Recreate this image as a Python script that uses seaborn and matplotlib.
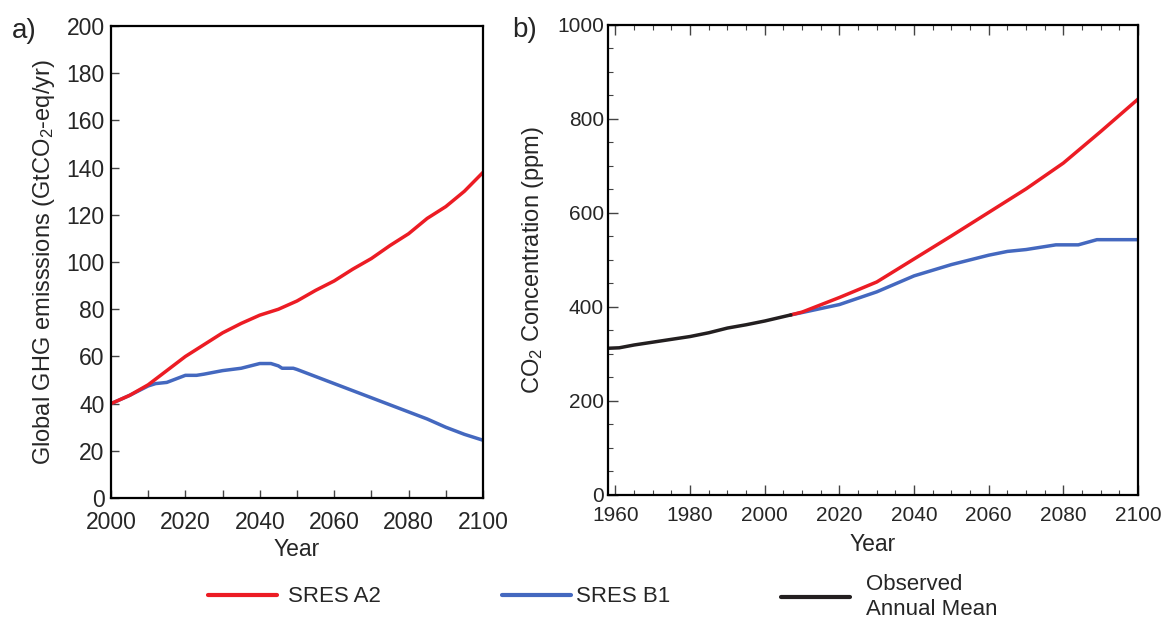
import pandas as pd
import numpy as np
import seaborn as sns
import matplotlib.pyplot as plt
from matplotlib.lines import Line2D

# panel a: global GHG emissions (GtCO2-eq/yr)
years_a = [2000, 2005, 2010, 2015, 2020, 2025, 2030, 2035, 2040, 2045, 2050,
           2055, 2060, 2065, 2070, 2075, 2080, 2085, 2090, 2095, 2100]
a2_emis = [40, 43.5, 48, 54, 60, 65, 70, 74, 77.5, 80, 83.5,
           88, 92, 97, 101.5, 107, 112, 118.5, 123.5, 130, 138]

years_b1 = [2000, 2005, 2010, 2012, 2015, 2020, 2023, 2025, 2030, 2035, 2040, 2043,
            2045, 2046, 2049, 2050, 2055, 2060, 2065, 2070, 2075, 2080, 2085,
            2090, 2095, 2100]
b1_emis = [40, 43.5, 47.5, 48.5, 49, 52, 52, 52.5, 54, 55, 57, 57,
           56, 55, 55, 54.5, 51.5, 48.5, 45.5, 42.5, 39.5, 36.5, 33.5,
           30, 27, 24.5]

# panel b: CO2 concentration (ppm)
years_obs = [1958, 1961, 1965, 1970, 1975, 1980, 1985, 1990, 1995, 2000, 2007]
obs_co2 = [312, 313, 319, 325, 331, 337, 345, 355, 362, 370, 383]

years_conc_a2 = [2007, 2010, 2020, 2030, 2040, 2050, 2060, 2070, 2080, 2090, 2100]
a2_conc = [383, 389, 420, 453, 502, 551, 601, 651, 706, 773, 842]

years_conc_b1 = [2007, 2010, 2020, 2030, 2040, 2050, 2060, 2065, 2070, 2078, 2084,
                 2089, 2100]
b1_conc = [383, 388, 405, 432, 466, 490, 510, 518, 522, 532, 532, 543, 543]

RED = '#ec1c24'
BLUE = '#4468bf'
BLACK = '#231f20'

sns.set_style("white")
plt.rcParams['font.family'] = ['Liberation Sans', 'DejaVu Sans']
plt.rcParams['mathtext.fontset'] = 'custom'
plt.rcParams['mathtext.rm'] = 'Liberation Sans'
plt.rcParams['mathtext.it'] = 'Liberation Sans'

fig = plt.figure(figsize=(11.72, 6.21), dpi=100)
ax1 = fig.add_axes([0.0947, 0.198, 0.3174, 0.760])
ax2 = fig.add_axes([0.5188, 0.203, 0.4522, 0.757])

lw = 2.5
df_a2 = pd.DataFrame({'Year': years_a, 'val': a2_emis})
df_b1 = pd.DataFrame({'Year': years_b1, 'val': b1_emis})
sns.lineplot(data=df_b1, x='Year', y='val', ax=ax1, color=BLUE, lw=lw)
sns.lineplot(data=df_a2, x='Year', y='val', ax=ax1, color=RED, lw=lw)

ax1.set_xlim(2000, 2100)
ax1.set_ylim(0, 200)
ax1.set_xticks(np.arange(2000, 2101, 20))
ax1.set_xticks(np.arange(2010, 2100, 20), minor=True)
ax1.set_yticks(np.arange(0, 201, 20))
ax1.tick_params(axis='both', which='both', direction='in', length=6, width=1,
                color='#444444', labelsize=16.5, bottom=True, left=True)
ax1.tick_params(axis='x', pad=9)
ax1.tick_params(axis='y', pad=4.5)
ax1.set_xlabel('Year', fontsize=16.5, labelpad=3)
ax1.set_ylabel('Global GHG emisssions (GtCO$_2$-eq/yr)', fontsize=17, labelpad=7)
for s in ax1.spines.values():
    s.set_linewidth(1.6)
    s.set_color('black')
ax1.text(-0.266, 0.99, 'a)', transform=ax1.transAxes, fontsize=20, va='center')

df_obs = pd.DataFrame({'Year': years_obs, 'val': obs_co2})
df_ca2 = pd.DataFrame({'Year': years_conc_a2, 'val': a2_conc})
df_cb1 = pd.DataFrame({'Year': years_conc_b1, 'val': b1_conc})
sns.lineplot(data=df_cb1, x='Year', y='val', ax=ax2, color=BLUE, lw=lw)
sns.lineplot(data=df_ca2, x='Year', y='val', ax=ax2, color=RED, lw=lw)
sns.lineplot(data=df_obs, x='Year', y='val', ax=ax2, color=BLACK, lw=lw)

ax2.set_xlim(1958, 2100)
ax2.set_ylim(0, 1000)
ax2.set_xticks(np.arange(1960, 2101, 20))
ax2.set_xticks(np.arange(1960, 2100, 5), minor=True)
ax2.set_yticks(np.arange(0, 1001, 200))
ax2.set_yticks(np.arange(50, 1000, 50), minor=True)
ax2.tick_params(axis='both', which='major', direction='in', length=7, width=1,
                color='#444444', labelsize=15, bottom=True, left=True, top=True)
ax2.tick_params(axis='both', which='minor', direction='in', length=3.5, width=0.8,
                color='#444444', bottom=True, left=True, top=True)
ax2.tick_params(axis='x', pad=8)
ax2.tick_params(axis='y', pad=3)
ax2.set_xlabel('Year', fontsize=16.5, labelpad=6)
ax2.set_ylabel('CO$_2$ Concentration (ppm)', fontsize=17, labelpad=8)
for s in ax2.spines.values():
    s.set_linewidth(1.6)
    s.set_color('black')
ax2.text(-0.181, 0.99, 'b)', transform=ax2.transAxes, fontsize=20, va='center')

# legend entries, each placed below the panels
entries = [(RED, 'SRES A2', 208, 0.51),
           (BLUE, 'SRES B1', 502, 0.21),
           (BLACK, 'Observed\nAnnual Mean', 781, 0.72)]
for col, lab, xpix, pad in entries:
    h = Line2D([], [], color=col, lw=3)
    fig.legend(handles=[h], labels=[lab], loc='center left',
               bbox_to_anchor=(xpix / 1172, 1 - 597 / 621), frameon=False,
               borderpad=0, borderaxespad=0, handlelength=3.1,
               handletextpad=pad, fontsize=16, labelspacing=0.0)

fig.savefig('out.png', dpi=100)
